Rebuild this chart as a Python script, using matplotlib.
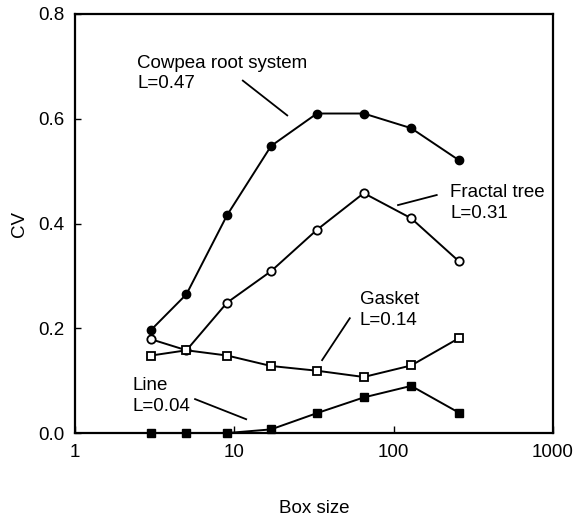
import matplotlib
matplotlib.use('Agg')
import matplotlib.pyplot as plt

plt.rcParams['font.family'] = ['Liberation Sans', 'DejaVu Sans']

# --------------------------------------------------------------
# data
box_size = [3, 5, 9, 17, 33, 65, 129, 257]
cv_cowpea = [0.197, 0.265, 0.416, 0.548, 0.61, 0.61, 0.582, 0.521]
cv_tree = [0.179, 0.158, 0.249, 0.309, 0.388, 0.458, 0.41, 0.328]
cv_gasket = [0.148, 0.158, 0.148, 0.128, 0.119, 0.107, 0.129, 0.181]
cv_line = [0.0, 0.0, 0.0, 0.007, 0.038, 0.068, 0.09, 0.039]

x_ticks = [1, 10, 100, 1000]
x_tick_labels = ['1', '10', '100', '1000']
y_ticks = [0.0, 0.2, 0.4, 0.6, 0.8]

# --------------------------------------------------------------
fig = plt.figure(figsize=(5.74, 5.18), dpi=100)
ax = fig.add_axes([0.131, 0.164, 0.832, 0.809])

ax.plot(box_size, cv_cowpea, color='black', linewidth=1.4, marker='o', markersize=6,
        markerfacecolor='black', markeredgecolor='black', clip_on=False, zorder=3)
ax.plot(box_size, cv_tree, color='black', linewidth=1.4, marker='o', markersize=6,
        markerfacecolor='white', markeredgecolor='black', markeredgewidth=1.3, clip_on=False, zorder=3)
ax.plot(box_size, cv_gasket, color='black', linewidth=1.4, marker='s', markersize=6,
        markerfacecolor='white', markeredgecolor='black', markeredgewidth=1.3, clip_on=False, zorder=3)
ax.plot(box_size, cv_line, color='black', linewidth=1.4, marker='s', markersize=6,
        markerfacecolor='black', markeredgecolor='black', clip_on=False, zorder=3)

ax.set_xscale('log')
ax.set_xlim(1, 1000)
ax.set_ylim(0, 0.8)
ax.set_xticks(x_ticks)
ax.set_xticklabels(x_tick_labels)
ax.minorticks_off()
ax.set_yticks(y_ticks)
ax.set_yticklabels(['%.1f' % v for v in y_ticks])
ax.tick_params(axis='x', direction='in', length=5, width=1, labelsize=13.5, pad=8)
ax.tick_params(axis='y', direction='in', length=4, width=1, labelsize=13.5, pad=8)
for spine in ax.spines.values():
    spine.set_linewidth(1.6)

ax.set_xlabel('Box size', fontsize=13.5, labelpad=28)
ax.set_ylabel('CV', fontsize=13.5, labelpad=7)

# --------------------------------------------------------------
# curve labels with pointer lines
labels = [
    ('Cowpea root system\nL=0.47', (0.13, 0.858), (0.444, 0.758), (0.351, 0.841)),
    ('Fractal tree\nL=0.31', (0.785, 0.549), (0.676, 0.544), (0.757, 0.568)),
    ('Gasket\nL=0.14', (0.596, 0.294), (0.517, 0.174), (0.575, 0.274)),
    ('Line\nL=0.04', (0.121, 0.088), (0.358, 0.033), (0.251, 0.081)),
]
for text, txt_pos, p0, p1 in labels:
    ax.text(txt_pos[0], txt_pos[1], text, transform=ax.transAxes, fontsize=13.5,
            ha='left', va='center', linespacing=1.3)
    ax.plot([p0[0], p1[0]], [p0[1], p1[1]], transform=ax.transAxes, color='black', linewidth=1.3)

plt.savefig('out.png', dpi=100)
